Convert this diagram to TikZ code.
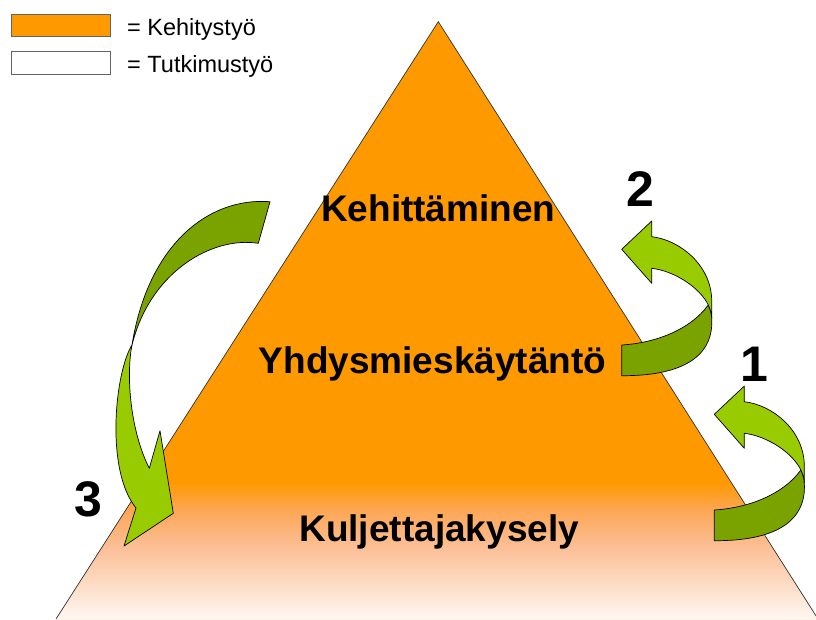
\documentclass[tikz,border=0pt]{standalone}
\usepackage{fontspec}
\setmainfont{Liberation Sans}
\definecolor{pyramidorange}{RGB}{255,153,0}
\definecolor{deeppeach}{RGB}{253,166,84}
\definecolor{peach}{RGB}{252,192,152}
\definecolor{lightpeach}{RGB}{253,224,204}
\definecolor{palepeach}{RGB}{255,248,244}
\definecolor{leafgreen}{RGB}{153,204,0}
\definecolor{olivegreen}{RGB}{122,163,0}
\definecolor{legendline}{RGB}{100,100,100}
% base of the pyramid fades from orange to a pale peach
\pgfdeclareverticalshading{pyramidfade}{100bp}{
  color(0bp)=(palepeach); color(25bp)=(palepeach); color(36bp)=(lightpeach);
  color(51bp)=(peach); color(65bp)=(deeppeach); color(75bp)=(pyramidorange);
  color(100bp)=(pyramidorange)}
\tikzset{
  level/.style={inner sep=0pt, anchor=base, font=\fontsize{37}{41}\selectfont\bfseries},
  stepno/.style={inner sep=0pt, anchor=base, font=\fontsize{50}{54}\selectfont\bfseries},
  legendtext/.style={inner sep=0pt, anchor=base west, font=\fontsize{23.5}{27}\selectfont},
  legendbox/.style={draw=legendline, line width=0.8pt},
  bandfront/.style={fill=leafgreen, draw=black, line width=0.7pt, line join=round},
  bandback/.style={fill=olivegreen, draw=black, line width=0.7pt, line join=round},
}
\begin{document}
\begin{tikzpicture}[x=1pt, y=-1pt]
\useasboundingbox (0,0) rectangle (816,619);
\clip (0,0) rectangle (816,619);

% pyramid corners
\coordinate (apex) at (438.3,21.7);
\coordinate (bl) at (56,619);
\coordinate (br) at (818,619);

% pyramid body: solid orange, fading out towards the base
\fill[pyramidorange] (apex) -- (bl) -- (br) -- cycle;
\begin{scope}
  \clip (apex) -- (bl) -- (br) -- cycle;
  \shade[shading=pyramidfade] (0,482) rectangle (820,620);
\end{scope}
\draw[black!80, line width=0.7pt] (bl) -- (apex) -- (br);

% legend
\node[legendbox, fill=pyramidorange, minimum width=99.3pt, minimum height=22pt, inner sep=0pt, anchor=north west]
  (devbox) at (10.7,14) {};
\node[legendbox, fill=white, minimum width=99.3pt, minimum height=23pt, inner sep=0pt, anchor=north west]
  (resbox) at (10.7,51) {};
\node[legendtext] (devtext) at (127,35.3) {= Kehitystyö};
\node[legendtext] (restext) at (127,72.7) {= Tutkimustyö};

% level labels
\node[level] (top)    at (438.3,221.7) {Kehittäminen};
\node[level] (middle) at (432.5,373.3) {Yhdysmieskäytäntö};
\node[level] (bottom) at (439.2,541.7) {Kuljettajakysely};

% step numbers
\node[stepno] (n1) at (754,381.7) {1};
\node[stepno] (n2) at (640.3,206.7) {2};
\node[stepno] (n3) at (88.8,516.7) {3};

% curled arrow (step 2); step 1 repeats it further down
\foreach \dx/\dy in {0/0, 92.6/165} {
  \begin{scope}[shift={(\dx,\dy)}]
    \filldraw[bandback]
      (621.7,345) .. controls (655,343) and (690,330) .. (708.3,305)
      .. controls (710.5,310) and (711.7,314) .. (711.7,318)
      .. controls (714,355) and (685,376) .. (621.7,375.7) -- cycle;
    \filldraw[bandfront]
      (621.7,249.3) -- (651.7,221) -- (651.7,236.7)
      .. controls (680,240) and (711,265) .. (711.7,300)
      -- (711.7,318)
      .. controls (711.7,314) and (710.5,310) .. (708.3,305)
      .. controls (700,288) and (675,271) .. (651.7,268.3)
      -- (651.7,283.3) -- cycle;
  \end{scope}
}

% long twisted arrow (step 3)
\filldraw[bandback]
  (270,201.7) .. controls (208,197) and (148,245) .. (132,345)
  .. controls (150,272) and (212,236) .. (258.3,243.3) -- cycle;
\filldraw[bandfront]
  (132,345) .. controls (115,372) and (105,470) .. (136,508)
  -- (124,546) -- (173.3,513.3) -- (160,430.7) -- (149.3,468.3)
  .. controls (130,430) and (126,375) .. (132,345) -- cycle;
\end{tikzpicture}
\end{document}
